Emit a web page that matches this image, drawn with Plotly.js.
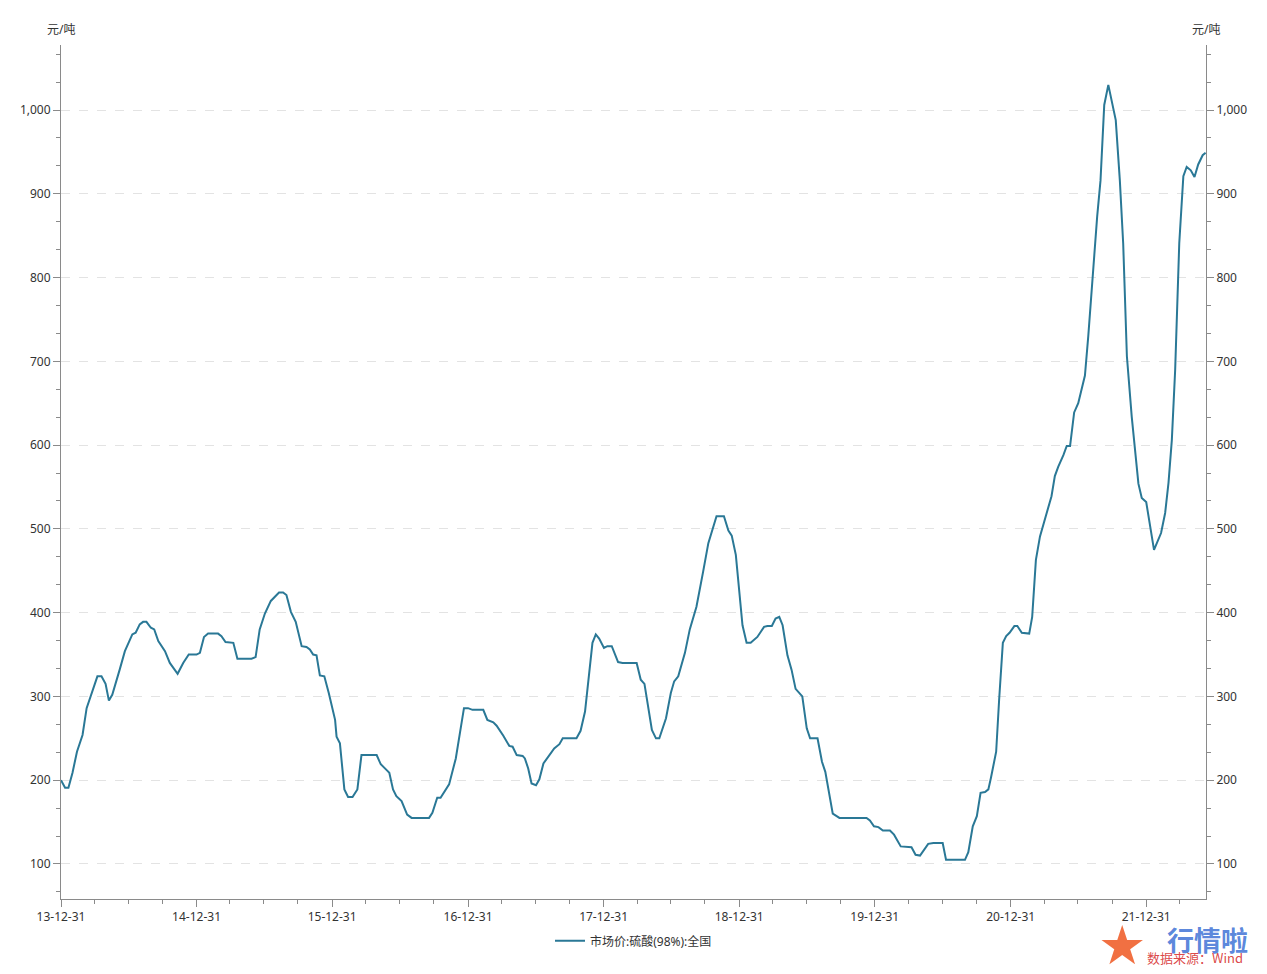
<!DOCTYPE html>
<html>
<head>
<meta charset="utf-8">
<script src="https://cdn.plot.ly/plotly-3.0.1.min.js"></script>
<style>
html,body{margin:0;padding:0;background:#fff;}
#chart{width:1267px;height:974px;}
</style>
</head>
<body>
<div id="chart"></div>
<script>
// ---- data ----
const seriesName = '市场价:硫酸(98%):全国';
const unitLabel = '元/吨';
const sourceLabel = '数据来源：Wind';
const logoLabel = '行情啦';

const dates = [
'2013-12-31','2014-01-11','2014-01-20','2014-01-31','2014-02-12','2014-02-27','2014-03-10','2014-03-21',
'2014-04-08','2014-04-19','2014-04-30','2014-05-09','2014-05-18','2014-06-07','2014-06-21','2014-07-11',
'2014-07-20','2014-07-31','2014-08-09','2014-08-18','2014-08-30','2014-09-08','2014-09-19','2014-10-07',
'2014-10-20','2014-11-10','2014-11-25','2014-12-10','2014-12-31','2015-01-09','2015-01-20','2015-01-31',
'2015-02-27','2015-03-08','2015-03-19','2015-04-09','2015-04-20','2015-05-28','2015-06-08','2015-06-19',
'2015-07-03','2015-07-19','2015-08-10','2015-08-21','2015-08-30','2015-09-11','2015-09-24','2015-10-10',
'2015-10-23','2015-11-01','2015-11-10','2015-11-19','2015-11-28','2015-12-10','2015-12-22','2016-01-08',
'2016-01-12','2016-01-21','2016-02-02','2016-02-12','2016-02-24','2016-03-08','2016-03-19','2016-04-29',
'2016-05-10','2016-05-26','2016-06-02','2016-06-12','2016-06-21','2016-07-05','2016-07-20','2016-08-01',
'2016-09-17','2016-09-26','2016-10-09','2016-10-18','2016-10-30','2016-11-10','2016-11-28','2016-12-11',
'2016-12-20','2016-12-31','2017-01-12','2017-02-10','2017-02-21','2017-03-09','2017-03-18','2017-04-05',
'2017-04-21','2017-04-30','2017-05-11','2017-05-27','2017-06-02','2017-06-11','2017-06-20','2017-07-02',
'2017-07-11','2017-07-22','2017-08-09','2017-08-20','2017-09-03','2017-09-12','2017-10-19','2017-10-30',
'2017-11-11','2017-11-22','2017-12-01','2017-12-10','2017-12-19','2018-01-01','2018-01-10','2018-01-22',
'2018-02-08','2018-02-20','2018-03-30','2018-04-10','2018-04-20','2018-05-10','2018-05-21','2018-05-30',
'2018-06-17','2018-06-30','2018-07-09','2018-07-20','2018-08-07','2018-08-20','2018-09-07','2018-09-25',
'2018-10-09','2018-10-31','2018-11-20','2018-12-02','2018-12-11','2018-12-22','2018-12-31','2019-01-09',
'2019-01-20','2019-01-31','2019-02-18','2019-03-08','2019-03-17','2019-03-29','2019-04-08','2019-04-18',
'2019-04-27','2019-05-10','2019-05-21','2019-06-01','2019-06-19','2019-07-01','2019-07-10','2019-07-30',
'2019-08-11','2019-08-20','2019-09-09','2019-09-27','2019-12-09','2019-12-18','2019-12-29','2020-01-10',
'2020-01-22','2020-02-10','2020-02-21','2020-03-10','2020-04-08','2020-04-19','2020-05-01','2020-05-12',
'2020-05-23','2020-06-06','2020-07-01','2020-07-10','2020-08-30','2020-09-08','2020-09-20','2020-10-01',
'2020-10-11','2020-10-23','2020-11-01','2020-11-08','2020-11-22','2020-11-30','2020-12-10','2020-12-19',
'2020-12-28','2021-01-10','2021-01-18','2021-01-30','2021-02-10','2021-02-19','2021-02-27','2021-03-09',
'2021-03-20','2021-04-03','2021-04-20','2021-04-29','2021-05-08','2021-05-22','2021-05-31','2021-06-09',
'2021-06-20','2021-07-01','2021-07-19','2021-07-28','2021-08-11','2021-08-21','2021-08-30','2021-09-09',
'2021-09-20','2021-10-10','2021-10-21','2021-10-30','2021-11-09','2021-11-22','2021-12-10','2021-12-19',
'2021-12-31','2022-01-21','2022-02-09','2022-02-20','2022-03-01','2022-03-10','2022-03-19','2022-03-23',
'2022-03-30','2022-04-10','2022-04-19','2022-04-30','2022-05-10','2022-05-20','2022-06-01','2022-06-09'
];

const prices = [
200,191,191,209,234,254,286,301,
324,324,315,295,302,332,354,374,
376,386,389,389,382,380,366,354,
340,327,340,350,350,352,371,375,
375,372,365,364,345,345,347,380,
399,414,424,424,421,401,389,360,
359,356,350,349,325,324,304,272,
252,244,189,180,180,189,230,230,
219,212,209,189,181,175,159,155,
155,161,179,179,188,195,226,264,
286,286,284,284,272,269,265,253,
241,240,230,229,226,214,196,194,
201,220,232,238,243,250,250,259,
282,326,364,374,369,358,360,360,
341,340,340,320,315,260,250,250,
274,304,318,324,352,380,407,449,
483,515,515,498,492,469,431,385,
364,364,371,383,384,384,393,395,
385,349,332,309,300,262,250,250,
222,210,160,155,155,152,145,144,
140,140,135,121,120,111,110,117,
124,125,125,105,105,114,145,157,
185,186,189,203,234,296,364,372,
376,384,384,376,375,375,395,463,
491,513,539,563,574,588,599,599,
639,650,683,730,817,873,916,1006,
1030,988,916,841,706,634,554,537,
532,475,495,519,555,606,690,737,
841,921,932,928,920,935,946,949
];

const yearTickDates = ['2013-12-31','2014-12-31','2015-12-31','2016-12-31','2017-12-31','2018-12-31','2019-12-31','2020-12-31','2021-12-31'];
const quarterEnds = ['03-31','06-30','09-30','12-31'];

// ---- derived tick positions ----
const minorX = [];
for (let y = 2014; y <= 2022; y++) {
  quarterEnds.forEach(q => minorX.push(y + '-' + q));
}

const fontFam = '"Noto Sans", "Noto Sans CJK SC", sans-serif';
const axisGray = '#8a8a8a';
const yRange = [58.2, 1077.6];

const trace = {
  x: dates,
  y: prices,
  type: 'scatter',
  mode: 'lines',
  name: seriesName,
  line: {color: '#2a7896', width: 2},
  hoverinfo: 'skip'
};

const yCommon = {
  range: yRange,
  tickmode: 'linear',
  tick0: 0,
  dtick: 100,
  tickformat: ',d',
  ticks: 'outside',
  ticklen: 7,
  tickwidth: 1,
  tickcolor: axisGray,
  showline: true,
  linecolor: axisGray,
  linewidth: 1,
  zeroline: false,
  tickfont: {family: fontFam, size: 12, color: '#333'},
  minor: {ticks: 'outside', ticklen: 4, tickcolor: axisGray, tick0: 0, dtick: 100/3, showgrid: false},
  fixedrange: true
};

const layout = {
  width: 1267,
  height: 974,
  margin: {l: 61, r: 61, t: 45, b: 75},
  paper_bgcolor: '#ffffff',
  plot_bgcolor: '#ffffff',
  font: {family: fontFam, size: 12, color: '#333'},
  showlegend: true,
  legend: {
    orientation: 'h',
    x: 0.5, xanchor: 'center',
    y: -0.049, yanchor: 'middle',
    itemwidth: 30,
    font: {family: fontFam, size: 12, color: '#333'},
    bgcolor: 'rgba(0,0,0,0)'
  },
  xaxis: {
    type: 'date',
    range: ['2013-12-31', '2022-06-10'],
    tickmode: 'array',
    tickvals: yearTickDates,
    tickformat: '%y-%m-%d',
    ticks: 'outside',
    ticklen: 7,
    tickcolor: axisGray,
    showline: true,
    linecolor: axisGray,
    linewidth: 1,
    showgrid: false,
    zeroline: false,
    tickfont: {family: fontFam, size: 12, color: '#333'},
    minor: {tickmode: 'array', tickvals: minorX, ticks: 'outside', ticklen: 4, tickcolor: axisGray, showgrid: false},
    fixedrange: true
  },
  yaxis: Object.assign({}, yCommon, {
    side: 'left',
    showgrid: true,
    gridcolor: '#e3e3e3',
    griddash: 'dash',
    gridwidth: 1
  }),
  yaxis2: Object.assign({}, yCommon, {
    overlaying: 'y',
    side: 'right',
    anchor: 'x',
    showgrid: false
  }),
  annotations: [
    {xref: 'paper', yref: 'paper', x: 0, y: 1, yshift: 16, xanchor: 'center', yanchor: 'middle',
     text: unitLabel, showarrow: false, font: {family: fontFam, size: 12, color: '#333'}},
    {xref: 'paper', yref: 'paper', x: 1, y: 1, yshift: 16, xanchor: 'center', yanchor: 'middle',
     text: unitLabel, showarrow: false, font: {family: fontFam, size: 12, color: '#333'}},
    {xref: 'paper', yref: 'paper', x: 1, xshift: -84, y: 0, yshift: -46, xanchor: 'center', yanchor: 'middle',
     text: '★', showarrow: false, font: {family: 'DejaVu Sans', size: 54, color: 'rgba(240,100,50,0.92)'}},
    {xref: 'paper', yref: 'paper', x: 1, xshift: 1, y: 0, yshift: -40, xanchor: 'center', yanchor: 'middle',
     text: '<b>' + logoLabel + '</b>', showarrow: false, font: {family: '"Noto Sans CJK SC", sans-serif', size: 27, color: 'rgba(70,120,215,0.9)'}},
    {xref: 'paper', yref: 'paper', x: 1, xshift: -11, y: 0, yshift: -58, xanchor: 'center', yanchor: 'middle',
     text: sourceLabel, showarrow: false, font: {family: '"Noto Sans CJK SC", sans-serif', size: 13, color: 'rgba(215,50,50,0.9)'}}
  ]
};

// invisible helper trace so the right-hand axis is realised
const trace2 = {x: [dates[0]], y: [prices[0]], yaxis: 'y2', type: 'scatter', mode: 'lines',
  showlegend: false, hoverinfo: 'skip', line: {color: 'rgba(0,0,0,0)'}};

Plotly.newPlot('chart', [trace, trace2], layout, {displayModeBar: false, staticPlot: true});
</script>
</body>
</html>
